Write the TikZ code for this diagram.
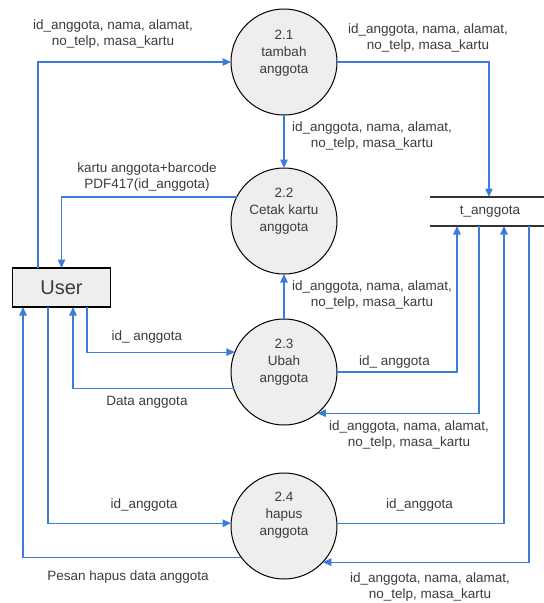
\documentclass[tikz,border=0pt]{standalone}
\usepackage{fontspec}
\setmainfont{Liberation Sans}
\usetikzlibrary{arrows.meta}
\definecolor{flowc}{RGB}{62,124,218}
\definecolor{procfill}{RGB}{238,238,238}
\definecolor{txt}{RGB}{60,60,60}
\begin{document}
\begin{tikzpicture}[x=1pt,y=-1pt,
  proc/.style={circle,draw=black,fill=procfill,line width=1pt,minimum size=106pt,inner sep=0pt,outer sep=0pt},
  proctext/.style={align=center,text=txt,font=\fontsize{13.5}{17}\selectfont,inner sep=0pt},
  entity/.style={draw=black,fill=procfill,line width=1.3pt,minimum width=98pt,minimum height=39pt,inner sep=0pt,outer sep=0pt,font=\fontsize{20}{24}\selectfont,text=txt},
  flow/.style={draw=flowc,line width=1.2pt,-{Triangle[length=8.5pt,width=7.5pt]}},
  lbl/.style={align=center,text=txt,font=\fontsize{13.5}{16}\selectfont,inner sep=0pt},
  storeline/.style={draw=black!80,line width=1.5pt}]
\useasboundingbox (0,0) rectangle (544,603);

% processes
\node[proc] (p1) at (284,62) {};
\node[proc] (p2) at (284,221) {};
\node[proc] (p3) at (284,372) {};
\node[proc] (p4) at (284,526) {};
\node[proctext] (t1) at (284,53) {2.1\\tambah\\anggota};
\node[proctext] (t2) at (284,211) {2.2\\Cetak kartu\\anggota};
\node[proctext] (t3) at (284,362) {2.3\\Ubah\\anggota};
\node[proctext] (t4) at (284,515) {2.4\\hapus\\anggota};

% external entity
\node[entity] (user) at (61.5,287.5) {User};

% data store
\coordinate (sA) at (430,197);
\coordinate (sB) at (544,197);
\coordinate (sC) at (430,226);
\coordinate (sD) at (544,226);
\draw[storeline] (sA) -- (sB);
\draw[storeline] (sC) -- (sD);
\node[lbl] (store) at (490,211.5) {t\_anggota};
\coordinate (sTop) at (489,197);
\coordinate (sIn3) at (457,226);
\coordinate (sOut3) at (479,226);
\coordinate (sIn4) at (504,226);
\coordinate (sOut4) at (529,226);

% flows
\draw[flow] ([xshift=-23.5pt]user.north) |- (p1);
\draw[flow] (p1) -| (sTop);
\draw[flow] (p1) -- (p2);
\draw[flow] (p2.153) -| (user.north);
\draw[flow] (p3) -- (p2);
\draw[flow] ([xshift=25.5pt]user.south) |- (p3.158);
\draw[flow] (p3.198) -| ([xshift=11.5pt]user.south);
\draw[flow] (p3) -| (sIn3);
\draw[flow] (sOut3) |- (p3.309);
\draw[flow] ([xshift=-13.5pt]user.south) |- (p4.177);
\draw[flow] (p4.216) -| ([xshift=-38.5pt]user.south);
\draw[flow] (p4.3) -| (sIn4);
\draw[flow] (sOut4) |- (p4.317);

% labels
\node[lbl] (l1) at (113,34) {id\_anggota, nama, alamat,\\no\_telp, masa\_kartu};
\node[lbl] (l2) at (428,38.5) {id\_anggota, nama, alamat,\\no\_telp, masa\_kartu};
\node[lbl] (l3) at (372,136.5) {id\_anggota, nama, alamat,\\no\_telp, masa\_kartu};
\node[lbl] (l4) at (147,177.5) {kartu anggota+barcode\\PDF417(id\_anggota)};
\node[lbl] (l5) at (372,295.5) {id\_anggota, nama, alamat,\\no\_telp, masa\_kartu};
\node[lbl] (l6) at (147,337) {id\_ anggota};
\node[lbl] (l7) at (147,402) {Data anggota};
\node[lbl] (l8) at (394.5,362) {id\_ anggota};
\node[lbl] (l9) at (409,435.5) {id\_anggota, nama, alamat,\\no\_telp, masa\_kartu};
\node[lbl] (l10) at (144,505) {id\_anggota};
\node[lbl] (l11) at (419.5,505) {id\_anggota};
\node[lbl] (l12) at (430,587.5) {id\_anggota, nama, alamat,\\no\_telp, masa\_kartu};
\node[lbl] (l13) at (128,577) {Pesan hapus data anggota};
\end{tikzpicture}
\end{document}
